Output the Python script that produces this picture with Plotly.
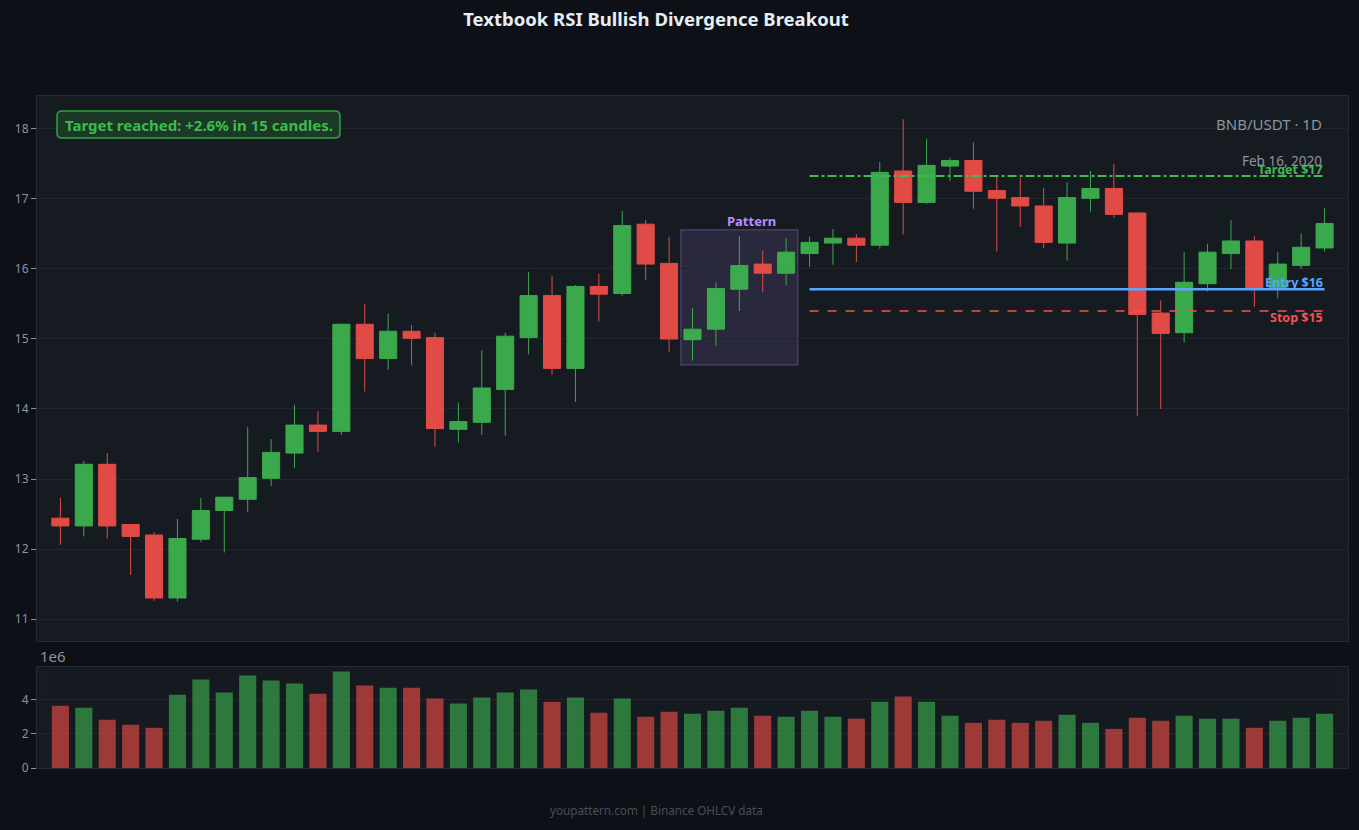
import plotly.graph_objects as go
from plotly.subplots import make_subplots

# ---- data ----
idx = list(range(55))
opens = [12.44, 12.33, 13.21, 12.35, 12.20, 11.30, 12.14, 12.55, 12.71, 13.01,
         13.37, 13.77, 13.68, 15.21, 14.72, 15.11, 15.02, 13.71, 13.81, 14.28,
         15.02, 15.62, 14.58, 15.75, 15.65, 16.64, 16.08, 14.99, 15.14, 15.71,
         16.07, 15.94, 16.22, 16.37, 16.44, 16.34, 17.40, 16.95, 17.47, 17.55,
         17.12, 17.02, 16.90, 16.37, 17.01, 17.15, 16.80, 15.37, 15.09, 15.79,
         16.22, 16.40, 15.72, 16.05, 16.30]
highs = [12.73, 13.26, 13.37, 12.36, 12.24, 12.43, 12.73, 12.75, 13.74, 13.57,
         14.06, 13.97, 15.22, 15.50, 15.36, 15.20, 15.09, 14.09, 14.84, 15.09,
         15.96, 15.90, 15.77, 15.93, 16.83, 16.70, 16.46, 15.44, 15.81, 16.47,
         16.26, 16.44, 16.46, 16.57, 16.50, 17.53, 18.14, 17.86, 17.59, 17.81,
         17.32, 17.30, 17.16, 17.24, 17.40, 17.50, 16.81, 15.55, 16.24, 16.36,
         16.70, 16.47, 16.24, 16.51, 16.87]
lows = [12.06, 12.18, 12.15, 11.63, 11.26, 11.25, 12.10, 11.95, 12.53, 12.90,
        13.16, 13.39, 13.63, 14.25, 14.56, 14.62, 13.46, 13.52, 13.63, 13.62,
        14.78, 14.49, 14.10, 15.25, 15.62, 15.84, 14.82, 14.69, 14.90, 15.40,
        15.67, 15.77, 16.03, 16.06, 16.10, 16.29, 16.49, 16.93, 17.26, 16.86,
        16.25, 16.60, 16.30, 16.12, 16.82, 16.73, 13.90, 14.00, 14.95, 15.68,
        16.00, 15.46, 15.58, 16.00, 16.25]
closes = [12.33, 13.21, 12.33, 12.18, 11.30, 12.15, 12.55, 12.74, 13.02, 13.38,
          13.77, 13.68, 15.21, 14.72, 15.11, 15.01, 13.72, 13.82, 14.30, 15.04,
          15.62, 14.58, 15.75, 15.64, 16.62, 16.07, 15.00, 15.14, 15.72, 16.05,
          15.94, 16.24, 16.38, 16.44, 16.34, 17.38, 16.95, 17.48, 17.55, 17.11,
          17.01, 16.90, 16.38, 17.02, 17.15, 16.78, 15.35, 15.08, 15.81, 16.24,
          16.40, 15.72, 16.07, 16.31, 16.65]
volume_m = [3.63, 3.51, 2.81, 2.52, 2.34, 4.27, 5.15, 4.39, 5.39, 5.09,
            4.92, 4.33, 5.62, 4.80, 4.68, 4.68, 4.04, 3.75, 4.10, 4.39,
            4.57, 3.86, 4.10, 3.22, 4.04, 2.99, 3.28, 3.16, 3.34, 3.51,
            3.04, 2.99, 3.34, 2.99, 2.87, 3.86, 4.16, 3.86, 3.04, 2.63,
            2.81, 2.63, 2.75, 3.10, 2.63, 2.28, 2.93, 2.75, 3.04, 2.87,
            2.87, 2.34, 2.75, 2.93, 3.16]

target_price = 17.33
entry_price = 15.71
stop_price = 15.40
levels_start, levels_end = 32, 54
pattern_x = (26.5, 31.5)
pattern_y = (14.63, 16.56)
pattern_label_x = 29.5

# ---- style ----
PAPER = "#0d1117"
PLOT = "#161b22"
GRID = "#21262d"
MUTED = "#8b949e"
GREEN = "#3fb950"
RED = "#f85149"
BLUE = "#58a6ff"
PURPLE = "#bc8cff"
FONT = "Noto Sans"

fig = make_subplots(rows=2, cols=1, shared_xaxes=True)

fig.add_trace(go.Candlestick(
    x=idx, open=opens, high=highs, low=lows, close=closes,
    increasing=dict(line=dict(color=GREEN, width=1), fillcolor=GREEN),
    decreasing=dict(line=dict(color=RED, width=1), fillcolor=RED),
    opacity=0.9, showlegend=False, name="BNB/USDT"), row=1, col=1)

vol_colors = [GREEN if c >= o else RED for o, c in zip(opens, closes)]
fig.add_trace(go.Bar(x=idx, y=volume_m, marker=dict(color=vol_colors, line=dict(width=0)),
                     opacity=0.6, showlegend=False, name="Volume"), row=2, col=1)

W, H = 1359, 830
ML, MR, MT, MB = 37, 11, 96, 62
pw, ph = W - ML - MR, H - MT - MB


def px_x(px):
    return (px - ML) / pw


def px_y(py):
    return (H - MB - py) / ph


axis_common = dict(showline=True, linecolor="#262c36", linewidth=1, mirror=True,
                   zeroline=False)

fig.update_layout(
    width=W, height=H, autosize=False,
    paper_bgcolor=PAPER, plot_bgcolor=PLOT,
    margin=dict(l=ML, r=MR, t=MT, b=MB),
    font=dict(family=FONT, color=MUTED, size=12),
    title=dict(text="<b>Textbook RSI Bullish Divergence Breakout</b>",
               x=656 / W, xanchor="center", y=1 - 20 / H, yanchor="middle",
               font=dict(size=18.5, color="#e6edf3", family=FONT)),
    bargap=0.27,
    boxgap=0.27, boxgroupgap=0.0,
    showlegend=False,
    xaxis=dict(range=[-1, 55], showticklabels=False, showgrid=False, ticks="",
               rangeslider=dict(visible=False), **axis_common),
    xaxis2=dict(range=[-1, 55], showticklabels=False, showgrid=False, ticks="",
                **axis_common),
    yaxis=dict(domain=[0.189, 1.0], range=[10.686, 18.471], tickvals=[11, 12, 13, 14, 15, 16, 17, 18],
               showgrid=True, gridcolor=GRID, gridwidth=1, ticks="outside", ticklen=5,
               tickcolor=MUTED, tickfont=dict(size=12, color=MUTED), **axis_common),
    yaxis2=dict(domain=[0.0, 0.150], range=[0, 5.87], tickvals=[0, 2, 4],
                showgrid=True, gridcolor=GRID, gridwidth=1, ticks="outside", ticklen=5,
                tickcolor=MUTED, tickfont=dict(size=12, color=MUTED), **axis_common),
)

# pattern box
fig.add_shape(type="rect", xref="x", yref="y", x0=pattern_x[0], x1=pattern_x[1],
              y0=pattern_y[0], y1=pattern_y[1], fillcolor="rgba(188,140,255,0.12)",
              line=dict(color="rgba(188,140,255,0.25)", width=1.5), layer="below")
fig.add_annotation(x=pattern_label_x, y=pattern_y[1], xref="x", yref="y",
                   text="<b>Pattern</b>", showarrow=False, yanchor="bottom", yshift=-2,
                   font=dict(size=13, color=PURPLE, family=FONT))

# level lines
fig.add_shape(type="line", xref="x", yref="y", x0=levels_start, x1=levels_end,
              y0=target_price, y1=target_price, line=dict(color=GREEN, width=2, dash="dashdot"))
fig.add_shape(type="line", xref="x", yref="y", x0=levels_start, x1=levels_end,
              y0=entry_price, y1=entry_price, line=dict(color=BLUE, width=2.5))
fig.add_shape(type="line", xref="x", yref="y", x0=levels_start, x1=levels_end,
              y0=stop_price, y1=stop_price, line=dict(color=RED, width=1.5, dash="dash"))

fig.add_annotation(x=levels_end, y=target_price, xref="x", yref="y", text="<b>Target $17</b>",
                   showarrow=False, xanchor="right", yanchor="middle", yshift=6,
                   font=dict(size=12.5, color=GREEN, family=FONT))
fig.add_annotation(x=levels_end, y=entry_price, xref="x", yref="y", text="<b>Entry $16</b>",
                   showarrow=False, xanchor="right", yanchor="middle", yshift=7,
                   font=dict(size=12.5, color=BLUE, family=FONT))
fig.add_annotation(x=levels_end, y=stop_price, xref="x", yref="y", text="<b>Stop $15</b>",
                   showarrow=False, xanchor="right", yanchor="middle", yshift=-7,
                   font=dict(size=12.5, color=RED, family=FONT))

# rounded info box
bx0, bx1, by0, by1, r = 57, 340, 111, 138, 5
X = lambda v: px_x(v)
Y = lambda v: px_y(v)
path = (f"M {X(bx0 + r)},{Y(by0)} L {X(bx1 - r)},{Y(by0)} Q {X(bx1)},{Y(by0)} {X(bx1)},{Y(by0 + r)} "
        f"L {X(bx1)},{Y(by1 - r)} Q {X(bx1)},{Y(by1)} {X(bx1 - r)},{Y(by1)} "
        f"L {X(bx0 + r)},{Y(by1)} Q {X(bx0)},{Y(by1)} {X(bx0)},{Y(by1 - r)} "
        f"L {X(bx0)},{Y(by0 + r)} Q {X(bx0)},{Y(by0)} {X(bx0 + r)},{Y(by0)} Z")
fig.add_shape(type="path", xref="paper", yref="paper", path=path,
              fillcolor="#1b3a25", line=dict(color="#34a046", width=1.5))
fig.add_annotation(x=px_x((bx0 + bx1) / 2), y=px_y((by0 + by1) / 2), xref="paper", yref="paper",
                   text="<b>Target reached: +2.6% in 15 candles.</b>", showarrow=False,
                   xanchor="center", yanchor="middle",
                   font=dict(size=15, color=GREEN, family=FONT))

fig.add_annotation(x=px_x(1324), y=px_y(124), xref="paper", yref="paper",
                   text="BNB/USDT · 1D", showarrow=False, xanchor="right", yanchor="middle",
                   font=dict(size=15, color=MUTED, family=FONT))
fig.add_annotation(x=px_x(1324), y=px_y(161), xref="paper", yref="paper",
                   text="Feb 16, 2020", showarrow=False, xanchor="right", yanchor="middle",
                   font=dict(size=13.5, color=MUTED, family=FONT))
fig.add_annotation(x=px_x(38), y=px_y(656), xref="paper", yref="paper",
                   text="1e6", showarrow=False, xanchor="left", yanchor="middle",
                   font=dict(size=15, color=MUTED, family=FONT))
fig.add_annotation(x=px_x(656), y=px_y(810), xref="paper", yref="paper",
                   text="youpattern.com | Binance OHLCV data", showarrow=False,
                   xanchor="center", yanchor="middle",
                   font=dict(size=11.7, color="#484f58", family=FONT))

fig.write_html("out.html")
